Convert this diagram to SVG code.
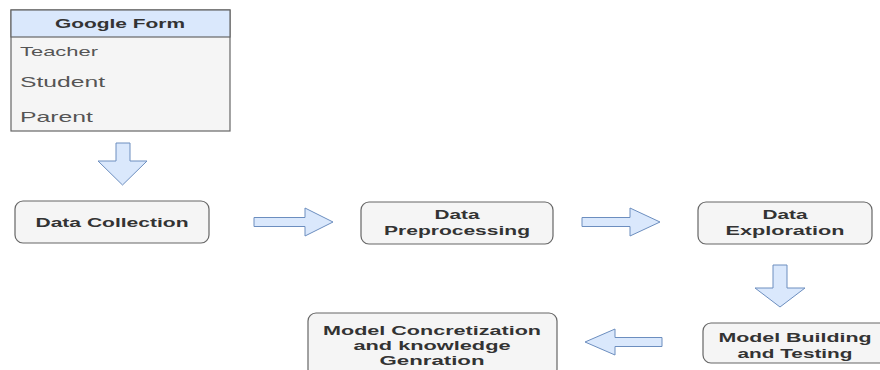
<svg xmlns="http://www.w3.org/2000/svg" width="880" height="370" viewBox="0 0 880 370">
<style>
.box{fill:#f5f5f5;stroke:#666;stroke-width:1.2}
.arr{fill:#dae8fc;stroke:#6c8ebf;stroke-width:1}
.lbl{font-family:"Liberation Sans",Arial,sans-serif;font-weight:bold;font-size:13px;fill:#333;text-anchor:middle}
.row{font-family:"Liberation Sans",Arial,sans-serif;fill:#555}
</style>
<rect width="880" height="370" fill="#fff"/>
<g id="google-form">
<rect x="11" y="10" width="219" height="121" fill="#f5f5f5" stroke="#666" stroke-width="1.2"/>
<rect x="11" y="10" width="219" height="27" fill="#dae8fc" stroke="#666" stroke-width="1.2"/>
<text class="lbl" x="120" y="28" textLength="130" lengthAdjust="spacingAndGlyphs">Google Form</text>
<text class="row" x="20" y="56" font-size="13" textLength="78" lengthAdjust="spacingAndGlyphs">Teacher</text>
<text class="row" x="20" y="87" font-size="15" textLength="85" lengthAdjust="spacingAndGlyphs">Student</text>
<text class="row" x="20" y="122" font-size="15" textLength="73" lengthAdjust="spacingAndGlyphs">Parent</text>
</g>
<g id="data-collection">
<rect class="box" x="15" y="201" width="194" height="42" rx="8"/>
<text class="lbl" x="112" y="227" textLength="153" lengthAdjust="spacingAndGlyphs">Data Collection</text>
</g>
<g id="data-preprocessing">
<rect class="box" x="361" y="202" width="192" height="42" rx="8"/>
<text class="lbl" x="457" y="219" textLength="45" lengthAdjust="spacingAndGlyphs">Data</text>
<text class="lbl" x="457" y="235" textLength="146" lengthAdjust="spacingAndGlyphs">Preprocessing</text>
</g>
<g id="data-exploration">
<rect class="box" x="698" y="202" width="174" height="42" rx="8"/>
<text class="lbl" x="785" y="219" textLength="45" lengthAdjust="spacingAndGlyphs">Data</text>
<text class="lbl" x="785" y="235" textLength="119" lengthAdjust="spacingAndGlyphs">Exploration</text>
</g>
<g id="model-building">
<rect class="box" x="703" y="323" width="186" height="40" rx="8"/>
<text class="lbl" x="795" y="342" textLength="153" lengthAdjust="spacingAndGlyphs">Model Building</text>
<text class="lbl" x="795" y="358" textLength="115" lengthAdjust="spacingAndGlyphs">and Testing</text>
</g>
<g id="model-concretization">
<rect class="box" x="308" y="313" width="249" height="64" rx="8"/>
<text class="lbl" x="432" y="335" textLength="218" lengthAdjust="spacingAndGlyphs">Model Concretization</text>
<text class="lbl" x="432" y="350" textLength="157" lengthAdjust="spacingAndGlyphs">and knowledge</text>
<text class="lbl" x="432" y="365" textLength="105" lengthAdjust="spacingAndGlyphs">Genration</text>
</g>
<g id="connectors">
<polygon class="arr" points="116,143 130,143 130,161 147,161 122.5,185 98,161 116,161"/>
<polygon class="arr" points="254,217.5 305,217.5 305,208 333,222 305,236 305,226.5 254,226.5"/>
<polygon class="arr" points="582,217.5 630,217.5 630,208 660,222 630,236 630,226.5 582,226.5"/>
<polygon class="arr" points="773,265 787,265 787,288 805,288 780,307 755,288 773,288"/>
<polygon class="arr" points="662,337.5 615,337.5 615,329 585,342 615,355 615,346.5 662,346.5"/>
</g>
</svg>
